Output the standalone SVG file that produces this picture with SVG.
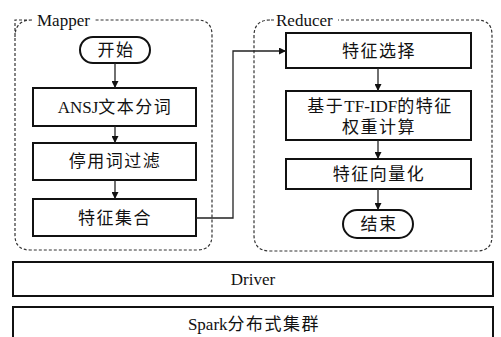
<svg xmlns="http://www.w3.org/2000/svg" width="501" height="337" viewBox="0 0 501 337">
<style>
.grp{fill:none;stroke:#333;stroke-width:1.2;stroke-dasharray:3,2}
.box{fill:#fff;stroke:#111;stroke-width:2}
.t{font-family:"Liberation Serif","Noto Sans CJK SC",serif;font-size:17px;letter-spacing:1.5px;fill:#111;text-anchor:middle}
.la{letter-spacing:0}
.lbl{font-family:"Liberation Serif",serif;font-size:17px;fill:#111}
.ln{fill:none;stroke:#222;stroke-width:1.3}
</style>
<defs>
<marker id="ah" viewBox="0 0 10 10" refX="10" refY="5" markerWidth="7" markerHeight="7" orient="auto" markerUnits="userSpaceOnUse">
<path d="M0,0 L10,5 L0,10 z" fill="#111"/>
</marker>
</defs>
<rect width="501" height="337" fill="#fff"/>
<g id="mapper">
<path class="grp" d="M32,20 H15 V235 Q15,250 30,250 H197 Q212,250 212,235 V35 Q212,20 197,20 H95 M32,20 Q15,20 15,37"/>
<rect x="34" y="10" width="61" height="18" fill="#fff"/>
<text class="lbl" x="37" y="26">Mapper</text>
</g>
<g id="reducer">
<path class="grp" d="M270,20 Q254,20 254,36 V235 Q254,251 270,251 H477 Q492,251 492,236 V35 Q492,20 477,20 Z"/>
<rect x="274" y="10" width="64" height="18" fill="#fff"/>
<text class="lbl" x="276" y="26">Reducer</text>
</g>
<g id="start"><rect class="box" x="80" y="37" width="70" height="26" rx="13"/><text class="t" x="116" y="56">开始</text></g>
<g id="ansj"><rect class="box" x="33" y="88" width="163" height="38"/><text class="t" x="115" y="113"><tspan class="la">ANSJ</tspan>文本分词</text></g>
<g id="stop"><rect class="box" x="33" y="143" width="163" height="37"/><text class="t" x="115" y="167">停用词过滤</text></g>
<g id="featset"><rect class="box" x="33" y="199" width="163" height="37"/><text class="t" x="115" y="224">特征集合</text></g>
<g id="select"><rect class="box" x="286" y="33" width="185" height="35"/><text class="t" x="379" y="57">特征选择</text></g>
<g id="tfidf"><rect class="box" x="286" y="91" width="185" height="49"/><text class="t" x="380" y="112">基于<tspan class="la">TF-IDF</tspan>的特征</text><text class="t" x="379" y="133">权重计算</text></g>
<g id="vector"><rect class="box" x="286" y="159" width="185" height="30"/><text class="t" x="379" y="180">特征向量化</text></g>
<g id="end"><rect class="box" x="343" y="210" width="70" height="28" rx="14"/><text class="t" x="379" y="230">结束</text></g>
<g id="driver"><rect class="box" x="13" y="262" width="480" height="34"/><text class="t" x="253" y="285" style="letter-spacing:0">Driver</text></g>
<g id="spark"><rect class="box" x="13" y="307" width="480" height="40"/><text class="t" x="254" y="330"><tspan class="la">Spark</tspan>分布式集群</text></g>
<g id="connectors">
<path class="ln" d="M115,63 V88" marker-end="url(#ah)"/>
<path class="ln" d="M115,126 V143" marker-end="url(#ah)"/>
<path class="ln" d="M115,180 V199" marker-end="url(#ah)"/>
<path class="ln" d="M196,218 H233 V51 H286" marker-end="url(#ah)"/>
<path class="ln" d="M378,68 V91" marker-end="url(#ah)"/>
<path class="ln" d="M378,140 V159" marker-end="url(#ah)"/>
<path class="ln" d="M378,189 V210" marker-end="url(#ah)"/>
</g>
</svg>
